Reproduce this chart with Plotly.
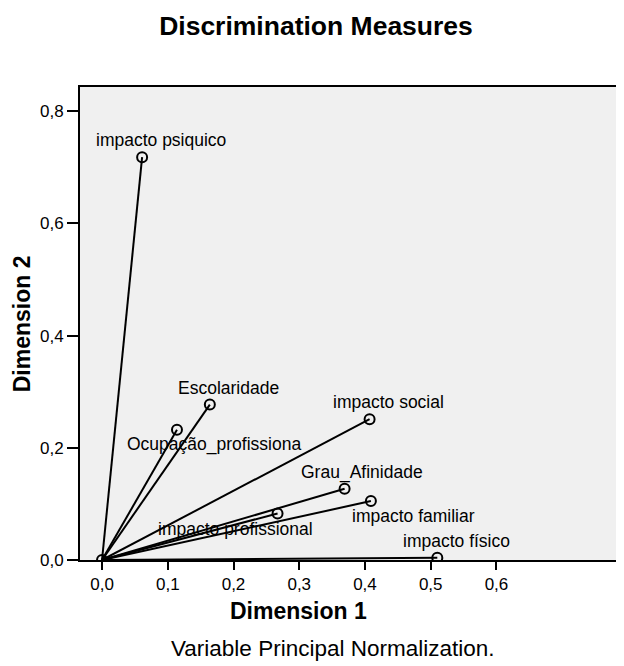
import plotly.graph_objects as go

# Discrimination measures
variables = ["impacto psiquico", "Escolaridade", "Ocupação_profissiona", "impacto social",
             "Grau_Afinidade", "impacto familiar", "impacto profissional", "impacto físico"]
dim1 = [0.061, 0.164, 0.114, 0.407, 0.369, 0.409, 0.267, 0.510]
dim2 = [0.718, 0.277, 0.232, 0.251, 0.127, 0.105, 0.083, 0.004]

x_ticks = [0.0, 0.1, 0.2, 0.3, 0.4, 0.5, 0.6]
x_tick_labels = ["0,0", "0,1", "0,2", "0,3", "0,4", "0,5", "0,6"]
y_ticks = [0.0, 0.2, 0.4, 0.6, 0.8]
y_tick_labels = ["0,0", "0,2", "0,4", "0,6", "0,8"]

# label offsets in pixels (style only)
label_shift = {
    "impacto psiquico": (19, 17),
    "Escolaridade": (19, 17),
    "Ocupação_profissiona": (37, -15),
    "impacto social": (19, 17),
    "Grau_Afinidade": (17, 16),
    "impacto familiar": (43, -15),
    "impacto profissional": (-42, -16),
    "impacto físico": (19, 17),
}

FONT = "Liberation Sans, Arial, sans-serif"

lx, ly = [], []
for a, b in zip(dim1, dim2):
    lx += [0, a, None]
    ly += [0, b, None]

fig = go.Figure()
fig.add_trace(go.Scatter(x=lx, y=ly, mode="lines",
                         line=dict(color="black", width=2), hoverinfo="skip",
                         showlegend=False))
fig.add_trace(go.Scatter(x=[0] + dim1, y=[0] + dim2, mode="markers",
                         marker=dict(symbol="circle-open", size=10,
                                     color="black", line=dict(width=2)),
                         showlegend=False))

annotations = []
for name, a, b in zip(variables, dim1, dim2):
    dx, dy = label_shift[name]
    annotations.append(dict(x=a, y=b, xref="x", yref="y", text=name,
                            showarrow=False, xanchor="center", yanchor="middle",
                            xshift=dx, yshift=dy,
                            font=dict(family=FONT, size=17.5, color="black")))

annotations += [
    dict(text="<b>Dimension 1</b>", xref="paper", yref="paper", x=0.402, y=-0.108,
         xanchor="center", yanchor="middle", showarrow=False,
         font=dict(family=FONT, size=23, color="black")),
    dict(text="<b>Dimension 2</b>", xref="paper", yref="paper", x=-0.107, y=0.5,
         xanchor="center", yanchor="middle", showarrow=False, textangle=-90,
         font=dict(family=FONT, size=23, color="black")),
    dict(text="Variable Principal Normalization.", xref="paper", yref="paper",
         x=0.464, y=-0.188, xanchor="center", yanchor="middle", showarrow=False,
         font=dict(family=FONT, size=22.5, color="black")),
]

# page body has an 8px margin, so the figure is 8px smaller and shifted
fig.update_layout(
    width=616, height=658,
    margin=dict(l=72, r=0, t=79, b=106),
    paper_bgcolor="white",
    plot_bgcolor="#f0f0f0",
    title=dict(text="<b>Discrimination Measures</b>", xref="container", yref="container",
               x=0.5, y=0.973, xanchor="center", yanchor="middle",
               font=dict(family=FONT, size=26.5, color="black")),
    annotations=annotations,
    showlegend=False,
)

fig.update_xaxes(range=[-0.0335, 0.794], tickvals=x_ticks, ticktext=x_tick_labels,
                 showgrid=False, zeroline=False, showline=True, linecolor="black",
                 linewidth=2, mirror=True, ticks="outside", ticklen=8, tickwidth=2,
                 tickcolor="black",
                 tickfont=dict(family=FONT, size=17, color="black"))
fig.update_yaxes(range=[0, 0.843], tickvals=y_ticks, ticktext=y_tick_labels,
                 showgrid=False, zeroline=False, showline=True, linecolor="black",
                 linewidth=2, ticks="outside", ticklen=11, tickwidth=2,
                 tickcolor="black",
                 tickfont=dict(family=FONT, size=17, color="black"))

fig.write_html("out.html")
